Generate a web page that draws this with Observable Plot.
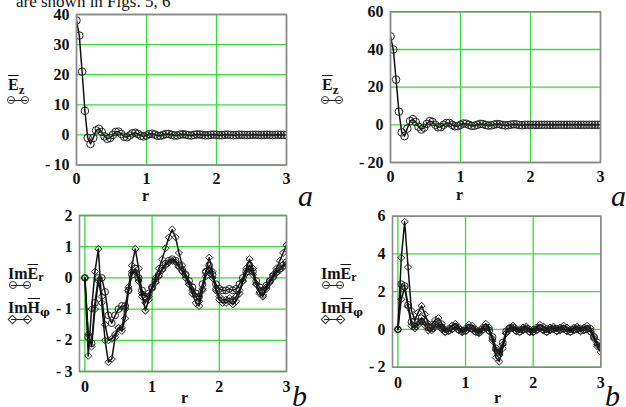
<!DOCTYPE html>
<html><head><meta charset="utf-8">
<script src="https://cdn.jsdelivr.net/npm/d3@7"></script>
<script src="https://cdn.jsdelivr.net/npm/@observablehq/plot@0.6"></script>
<style>
body{margin:0;background:#fff;}
#root{position:relative;width:626px;height:407px;overflow:hidden;background:#fff;font-family:"Liberation Serif","Times New Roman",serif;color:#111;}
.pan{position:absolute;}
.t{position:absolute;white-space:nowrap;line-height:1;font-family:"Liberation Serif","Times New Roman",serif;color:#111;}
.lg{font-weight:bold;font-size:16px;}
.ov{text-decoration:overline;text-decoration-thickness:1px;}
.sub{color:#111;font-family:"Liberation Serif","Times New Roman",serif;}
.phi{color:#111;font-family:"DejaVu Serif",serif;}
.sym{position:absolute;width:22px;height:8px;}
.sym .ln{position:absolute;left:2px;right:2px;top:4px;border-top:1.3px solid #222;}
.sym .c{position:absolute;top:0;width:6px;height:6px;border:1px solid #333;border-radius:50%;background:transparent;}
.sym .d{position:absolute;top:1px;width:5px;height:5px;border:1px solid #333;transform:rotate(45deg);background:transparent;}
.ital{font-style:italic;font-size:30px;}
</style></head><body>
<div id="root"></div>
<script>
// r grids
const rA = [0,0.04,0.08,0.12,0.16,0.2,0.24,0.28,0.32,0.36,0.4,0.44,0.48,0.52,0.56,0.6,0.64,0.68,0.72,0.76,0.8,0.84,0.88,0.92,0.96,1,1.04,1.08,1.12,1.16,1.2,1.24,1.28,1.32,1.36,1.4,1.44,1.48,1.52,1.56,1.6,1.64,1.68,1.72,1.76,1.8,1.84,1.88,1.92,1.96,2,2.04,2.08,2.12,2.16,2.2,2.24,2.28,2.32,2.36,2.4,2.44,2.48,2.52,2.56,2.6,2.64,2.68,2.72,2.76,2.8,2.84,2.88,2.92,2.96,3];
const rB = [0,0.05,0.1,0.15,0.2,0.25,0.3,0.35,0.4,0.45,0.5,0.55,0.6,0.65,0.7,0.75,0.8,0.85,0.9,0.95,1,1.05,1.1,1.15,1.2,1.25,1.3,1.35,1.4,1.45,1.5,1.55,1.6,1.65,1.7,1.75,1.8,1.85,1.9,1.95,2,2.05,2.1,2.15,2.2,2.25,2.3,2.35,2.4,2.45,2.5,2.55,2.6,2.65,2.7,2.75,2.8,2.85,2.9,2.95,3];
const xTicks = [0,1,2,3];

// panel a (left): Ez
const ezLeft = [38,33,21,8,-1,-3,-1,1.5,2,1,-0.5,-1.3,-1,0,1,1.1,0.3,-0.6,-0.8,-0.2,0.5,0.7,0.3,-0.3,-0.5,-0.2,0.3,0.4,0.1,-0.3,-0.3,0,0.3,0.3,0,-0.2,-0.2,0.1,0.2,0.1,-0.1,-0.2,0,0.15,0.15,0,-0.15,-0.1,0.05,0.1,0.05,-0.1,-0.1,0.05,0.1,0,-0.1,-0.05,0.05,0.05,0,-0.05,0,0.05,0.05,0,-0.05,0,0.05,0,-0.05,0,0.05,0,0,0];
const yTicksA1 = [-10,0,10,20,30,40];
// panel a (right): Ez
const ezRight = [47,40,24,7,-4,-6,-2,2,3,1.5,-1,-2.5,-1.5,0.5,2,1.5,0,-1.3,-1.2,0,1,1,0,-0.8,-0.7,0,0.7,0.6,0,-0.6,-0.5,0,0.5,0.4,-0.1,-0.4,-0.3,0.1,0.4,0.3,-0.1,-0.3,-0.2,0.1,0.3,0.2,-0.1,-0.2,0,0,0,0,0,0,0,0,0,0,0,0,0,0,0,0,0,0,0,0,0,0,0,0,0,0,0,0];
const yTicksA2 = [-20,0,20,40,60];
// panel b (left)
const imHphiL = [0,-2.5,-1.0,0.2,0.93,-0.8,-2.0,-2.7,-2.6,-1.9,-1.6,-1.6,-1.0,-0.3,0.4,0.93,0.3,-0.5,-1.05,-0.7,-0.3,0.0,0.3,0.6,0.95,1.3,1.55,1.3,0.8,0.4,0.1,-0.2,-0.5,-0.8,-0.9,-0.4,0.2,0.65,0.2,-0.4,-0.7,-0.8,-0.8,-0.75,-0.85,-0.75,-0.5,-0.1,0.3,0.6,0.3,-0.2,-0.5,-0.6,-0.3,-0.1,0.1,0.3,0.55,0.8,1.05];
const imErL = [0,-1.9,-2.1,-0.8,0.0,0.0,-0.45,-1.2,-1.45,-1.2,-1.0,-0.9,-0.9,-0.4,0.1,0.3,0.0,-0.4,-0.6,-0.5,-0.3,-0.1,0.1,0.3,0.45,0.55,0.6,0.55,0.4,0.25,0.1,-0.1,-0.3,-0.5,-0.6,-0.2,0.2,0.4,0.1,-0.2,-0.35,-0.4,-0.4,-0.35,-0.4,-0.35,-0.2,0.0,0.2,0.4,0.2,-0.1,-0.3,-0.4,-0.25,-0.1,0.05,0.2,0.3,0.4,0.5];
const imHphiL2 = [0,-1.8,-2.2,-1.0,-0.1,-0.6,-1.5,-2.0,-1.95,-1.8,-1.6,-1.7,-1.3,-0.4,0.2,0.2,-0.1,-0.6,-0.8,-0.6,-0.35,-0.15,0.05,0.25,0.4,0.5,0.55,0.5,0.35,0.2,0.0,-0.2,-0.4,-0.6,-0.75,-0.35,0.05,0.25,0.0,-0.35,-0.6,-0.7,-0.7,-0.65,-0.7,-0.6,-0.4,-0.1,0.15,0.3,0.1,-0.2,-0.45,-0.55,-0.35,-0.15,0.0,0.15,0.25,0.35,0.45];
const yTicksB1 = [-3,-2,-1,0,1,2];
// panel b (right)
const imHphiR = [0,3.8,5.7,3.3,1.0,0.5,0.9,1.25,0.8,0.3,0.25,0.5,0.6,0.3,0.0,0.05,0.2,0.3,0.1,-0.05,0.05,0.25,0.2,0.0,-0.1,0.1,0.3,0.1,-0.6,-1.5,-1.7,-1.0,-0.2,0.1,0.2,0.05,0.0,0.1,0.15,0.0,0.0,0.1,0.25,0.15,0.05,0.1,0.15,0.05,0.1,0.2,0.1,0.0,0.1,0.15,0.05,0.1,0.2,0.05,-0.4,-0.9,-1.2];
const imErR = [0,2.4,2.3,1.3,0.4,0.15,0.4,0.6,0.4,0.1,0.05,0.25,0.3,0.1,-0.1,-0.05,0.05,0.15,0.0,-0.1,-0.05,0.1,0.05,-0.1,-0.15,0.0,0.1,-0.05,-0.4,-1.0,-1.2,-0.7,-0.1,0.05,0.1,-0.05,-0.1,0.0,0.05,-0.1,-0.1,0.0,0.1,0.0,-0.1,0.0,0.05,-0.05,0.0,0.05,-0.05,-0.1,0.0,0.05,-0.05,0.0,0.05,-0.1,-0.4,-0.7,-0.9];
const imHphiR2 = [0,1.6,2.2,1.2,0.2,0.05,0.25,0.45,0.2,-0.05,-0.05,0.15,0.2,0.0,-0.15,-0.1,0.0,0.1,-0.05,-0.15,-0.1,0.05,0.0,-0.15,-0.2,-0.05,0.05,-0.1,-0.5,-1.1,-1.35,-0.8,-0.2,0.0,0.05,-0.1,-0.15,-0.05,0.0,-0.15,-0.15,-0.05,0.05,-0.05,-0.15,-0.05,0.0,-0.1,-0.05,0.0,-0.1,-0.15,-0.05,0.0,-0.1,-0.05,0.0,-0.15,-0.5,-0.8,-1.0];
const yTicksB2 = [-2,0,2,4,6];

const GREEN = "#33dd33";
const SERIF = "Liberation Serif";
const fmt = d => d < 0 ? "-\u2009" + Math.abs(d) : String(d);
const zip = (r, v) => r.map((x, i) => ({r: x, v: v[i]}));

function panel(c) {
  const marks = [
    Plot.gridX(xTicks, {stroke: GREEN, strokeOpacity: 1, strokeWidth: 1.3}),
    Plot.gridY(c.yTicks, {stroke: GREEN, strokeOpacity: 1, strokeWidth: 1.3}),
  ];
  for (const s of c.series) {
    const data = zip(s.r, s.v);
    marks.push(Plot.line(data, {x: "r", y: "v", stroke: "#111", strokeWidth: 1.5, clip: true}));
    marks.push(Plot.dot(data, {x: "r", y: "v", symbol: s.symbol, r: s.size, stroke: "#222", strokeWidth: 1, fill: "none", clip: true}));
  }
  marks.push(Plot.frame({stroke: "#8a8a8a", strokeWidth: 1.6}));
  marks.push(Plot.axisX(xTicks, {tickSize: 0, tickPadding: c.xPad, fontSize: 16, fontWeight: "bold", fontFamily: SERIF, fill: "#111", label: null}));
  marks.push(Plot.axisY(c.yTicks, {tickSize: 0, tickPadding: 7, fontSize: 16, fontWeight: "bold", fontFamily: SERIF, fill: "#111", tickFormat: fmt, label: null}));
  const p = Plot.plot({
    width: c.w, height: c.h,
    marginLeft: c.mL, marginRight: c.mR, marginTop: c.mT, marginBottom: c.mB,
    x: {domain: c.xDomain},
    y: {domain: c.yDomain},
    style: {fontFamily: SERIF, background: "transparent", overflow: "visible", color: "#111"},
    marks
  });
  const wrap = document.createElement("div");
  wrap.className = "pan";
  wrap.style.left = c.left + "px";
  wrap.style.top = c.top + "px";
  wrap.appendChild(p);
  document.getElementById("root").appendChild(wrap);
}

panel({left: 0, top: 0, w: 313, h: 200, mL: 76, mR: 27, mT: 14, mB: 35.5, xPad: 8,
  xDomain: [0, 3], yDomain: [-10, 40], yTicks: yTicksA1,
  series: [{r: rA, v: ezLeft, symbol: "circle", size: 3.8}]});
panel({left: 313, top: 0, w: 313, h: 200, mL: 77, mR: 26, mT: 11.3, mB: 38, xPad: 8,
  xDomain: [0, 3], yDomain: [-20, 60], yTicks: yTicksA2,
  series: [{r: rA, v: ezRight, symbol: "circle", size: 3.8}]});
panel({left: 0, top: 200, w: 313, h: 207, mL: 79, mR: 27, mT: 15, mB: 36, xPad: 9,
  xDomain: [-0.08, 3], yDomain: [-3, 2], yTicks: yTicksB1,
  series: [
    {r: rB, v: imHphiL2, symbol: "diamond2", size: 3.2},
    {r: rB, v: imErL, symbol: "circle", size: 3.4},
    {r: rB, v: imHphiL, symbol: "diamond2", size: 3.2}]});
panel({left: 313, top: 200, w: 313, h: 207, mL: 79, mR: 25.7, mT: 15.7, mB: 40.3, xPad: 9,
  xDomain: [-0.08, 3], yDomain: [-2, 6], yTicks: yTicksB2,
  series: [
    {r: rB, v: imHphiR2, symbol: "diamond2", size: 3.2},
    {r: rB, v: imErR, symbol: "circle", size: 3.4},
    {r: rB, v: imHphiR, symbol: "diamond2", size: 3.2}]});

// text overlays
const root = document.getElementById("root");
function add(html, cls, left, top, extra) {
  const d = document.createElement("div");
  d.className = "t " + cls;
  d.style.left = left + "px";
  d.style.top = top + "px";
  if (extra) Object.assign(d.style, extra);
  d.innerHTML = html;
  root.appendChild(d);
  return d;
}
function sym(kind, left, top) {
  const mk = k => kind === "c" ? `<span class="c" style="${k}"></span>` : `<span class="d" style="${k}"></span>`;
  const d = document.createElement("div");
  d.className = "sym";
  d.style.left = left + "px";
  d.style.top = top + "px";
  d.innerHTML = `<div class="ln"></div>${mk("left:0")}${mk("right:0")}`;
  root.appendChild(d);
}
add("are shown in Figs. 5, 6", "", 16, -7, {fontSize: "17px"});
// y legends
add('<span class="ov">E</span><span class="sub" style="font-size:13px;position:relative;top:4px">z</span>', "lg", 8, 77);
sym("c", 7, 96);
add('<span class="ov">E</span><span class="sub" style="font-size:13px;position:relative;top:4px">z</span>', "lg", 322, 77);
sym("c", 321, 96);
add('Im<span class="ov">E</span><span class="sub" style="font-size:12px;position:relative;top:2px">r</span>', "lg", 8, 266);
sym("c", 9, 281);
add('Im<span class="ov">H</span><span class="phi" style="font-size:11px;position:relative;top:3px">\u03c6</span>', "lg", 8, 300);
sym("d", 9, 315);
add('Im<span class="ov">E</span><span class="sub" style="font-size:12px;position:relative;top:2px">r</span>', "lg", 321, 266);
sym("c", 322, 281);
add('Im<span class="ov">H</span><span class="phi" style="font-size:11px;position:relative;top:3px">\u03c6</span>', "lg", 321, 300);
sym("d", 322, 315);
// x labels
add("r", "lg", 142, 188);
add("r", "lg", 456, 187);
add("r", "lg", 181, 390);
add("r", "lg", 494, 390);
// panel letters
add("a", "ital", 298, 181);
add("a", "ital", 611, 181);
add("b", "ital", 292, 381);
add("b", "ital", 605, 381);
</script>
</body></html>
